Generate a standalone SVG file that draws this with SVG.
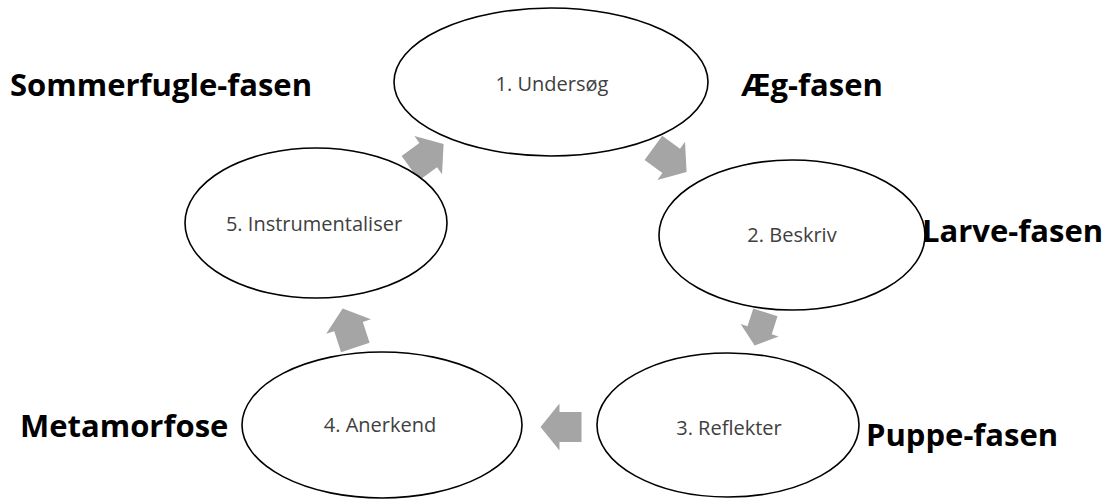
<svg xmlns="http://www.w3.org/2000/svg" width="1109" height="500" viewBox="0 0 1109 500">
<style>
.node ellipse{fill:#fff;stroke:#000;stroke-width:1.6}
.node text{font-family:"Open Sans","Liberation Sans",sans-serif;font-size:20px;fill:#404040;text-anchor:middle}
.phase{font-family:"Open Sans","Liberation Sans",sans-serif;font-weight:bold;font-size:31px;fill:#000}
.arr{fill:#a5a5a5}
</style>
<defs>
<polygon id="arrow" class="arr" points="-20.5,-15 1.5,-15 1.5,-23.5 20.5,0 1.5,23.5 1.5,15 -20.5,15"/>
</defs>
<rect width="1109" height="500" fill="#fff"/>
<g id="connectors">
<use href="#arrow" transform="translate(670,160) rotate(36)"/>
<use href="#arrow" transform="translate(760,329) rotate(108) scale(0.85)"/>
<use href="#arrow" transform="translate(561,427) rotate(180)"/>
<use href="#arrow" transform="translate(349,328) rotate(-108)"/>
<use href="#arrow" transform="translate(427,156) rotate(-36)"/>
</g>
<g id="node1" class="node"><ellipse cx="551" cy="82" rx="157" ry="74"/><text x="552" y="91">1. Undersøg</text></g>
<g id="node2" class="node"><ellipse cx="792" cy="235" rx="133" ry="75"/><text x="792" y="242">2. Beskriv</text></g>
<g id="node3" class="node"><ellipse cx="728" cy="425" rx="131" ry="72"/><text x="729" y="435">3. Reflekter</text></g>
<g id="node4" class="node"><ellipse cx="382" cy="425" rx="140" ry="73"/><text x="380" y="432">4. Anerkend</text></g>
<g id="node5" class="node"><ellipse cx="316" cy="223" rx="131" ry="75"/><text x="314" y="231">5. Instrumentaliser</text></g>
<g id="labels">
<text class="phase" x="10" y="96">Sommerfugle-fasen</text>
<text class="phase" x="741" y="96">Æg-fasen</text>
<text class="phase" x="922" y="242">Larve-fasen</text>
<text class="phase" x="866" y="446">Puppe-fasen</text>
<text class="phase" x="20" y="437">Metamorfose</text>
</g>
</svg>
